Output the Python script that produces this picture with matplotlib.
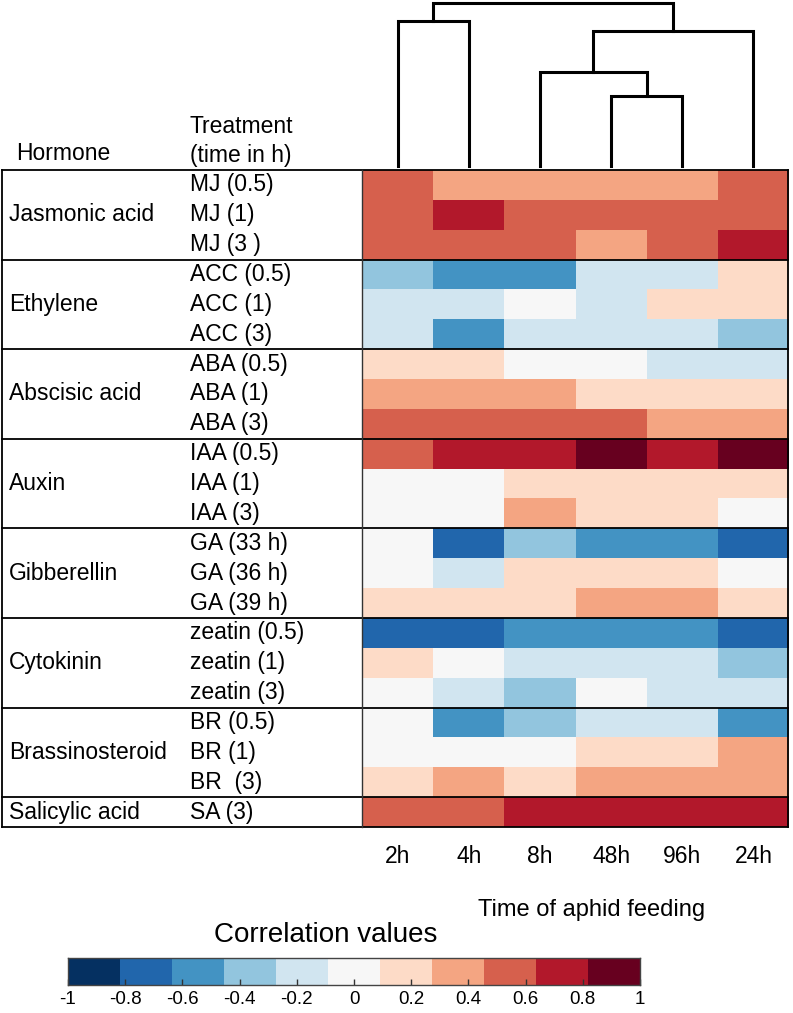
import matplotlib
matplotlib.use("Agg")
import matplotlib.pyplot as plt
from matplotlib.colors import ListedColormap, BoundaryNorm
import numpy as np

plt.rcParams['font.family'] = ['Liberation Sans', 'DejaVu Sans']

# ---------------- data ----------------
time_labels = ["2h", "4h", "8h", "48h", "96h", "24h"]

hormones = ["Jasmonic acid", "Ethylene", "Abscisic acid", "Auxin",
            "Gibberellin", "Cytokinin", "Brassinosteroid", "Salicylic acid"]
group_sizes = [3, 3, 3, 3, 3, 3, 3, 1]

treatments = ["MJ (0.5)", "MJ (1)", "MJ (3 )",
              "ACC (0.5)", "ACC (1)", "ACC (3)",
              "ABA (0.5)", "ABA (1)", "ABA (3)",
              "IAA (0.5)", "IAA (1)", "IAA (3)",
              "GA (33 h)", "GA (36 h)", "GA (39 h)",
              "zeatin (0.5)", "zeatin (1)", "zeatin (3)",
              "BR (0.5)", "BR (1)", "BR  (3)",
              "SA (3)"]

# correlation values (columns follow time_labels)
corr_values = [
    [0.55, 0.36, 0.36, 0.36, 0.36, 0.55],
    [0.55, 0.73, 0.55, 0.55, 0.55, 0.55],
    [0.55, 0.55, 0.55, 0.36, 0.55, 0.73],
    [-0.36, -0.55, -0.55, -0.18, -0.18, 0.18],
    [-0.18, -0.18, 0.00, -0.18, 0.18, 0.18],
    [-0.18, -0.55, -0.18, -0.18, -0.18, -0.36],
    [0.18, 0.18, 0.00, 0.00, -0.18, -0.18],
    [0.36, 0.36, 0.36, 0.18, 0.18, 0.18],
    [0.55, 0.55, 0.55, 0.55, 0.36, 0.36],
    [0.55, 0.73, 0.73, 0.90, 0.73, 0.90],
    [0.00, 0.00, 0.18, 0.18, 0.18, 0.18],
    [0.00, 0.00, 0.36, 0.18, 0.18, 0.00],
    [0.00, -0.73, -0.36, -0.55, -0.55, -0.73],
    [0.00, -0.18, 0.18, 0.18, 0.18, 0.00],
    [0.18, 0.18, 0.18, 0.36, 0.36, 0.18],
    [-0.73, -0.73, -0.55, -0.55, -0.55, -0.73],
    [0.18, 0.00, -0.18, -0.18, -0.18, -0.36],
    [0.00, -0.18, -0.36, 0.00, -0.18, -0.18],
    [0.00, -0.55, -0.36, -0.18, -0.18, -0.55],
    [0.00, 0.00, 0.00, 0.18, 0.18, 0.36],
    [0.18, 0.36, 0.18, 0.36, 0.36, 0.36],
    [0.55, 0.55, 0.73, 0.73, 0.73, 0.73],
]

# dendrogram over columns (scipy-style linkage: a, b, height)
col_linkage = [
    [0, 1, 0.89],
    [3, 4, 0.43],
    [2, 7, 0.58],
    [8, 5, 0.83],
    [6, 9, 1.00],
]

cbar_ticks = [-1, -0.8, -0.6, -0.4, -0.2, 0, 0.2, 0.4, 0.6, 0.8, 1]
cbar_ticklabels = ["-1", "-0.8", "-0.6", "-0.4", "-0.2", "0", "0.2", "0.4", "0.6", "0.8", "1"]

palette = ["#053061", "#2166ac", "#4393c3", "#92c5de", "#d1e5f0", "#f7f7f7",
           "#fddbc7", "#f4a582", "#d6604d", "#b2182b", "#67001f"]

# ---------------- layout ----------------
W, H = 793, 1013
fig = plt.figure(figsize=(W / 100, H / 100), dpi=100)


def fbox(x0, y0, x1, y1):
    return [x0 / W, 1 - y1 / H, (x1 - x0) / W, (y1 - y0) / H]


HL, HR, HT, HB = 362, 789, 170, 827
FS = 16.5

cmap = ListedColormap(palette)
edges = np.linspace(-1, 1, len(palette) + 1)
norm = BoundaryNorm(edges, cmap.N)

data = np.array(corr_values)
nrow, ncol = data.shape

# heatmap
ax = fig.add_axes(fbox(HL, HT, HR, HB))
ax.pcolormesh(np.arange(ncol + 1) - 0.5, np.arange(nrow + 1) - 0.5, data,
              cmap=cmap, norm=norm)
ax.set_xlim(-0.5, ncol - 0.5)
ax.set_ylim(nrow - 0.5, -0.5)
ax.set_yticks([])
ax.set_xticks(range(ncol))
ax.set_xticklabels(time_labels, fontsize=FS)
ax.tick_params(axis='x', length=0, pad=13)
for s in ax.spines.values():
    s.set_visible(False)
ax.set_xlabel("Time of aphid feeding", fontsize=17)
ax.xaxis.set_label_coords((592 - HL) / (HR - HL), -(899 - HB) / (HB - HT))

# dendrogram
dax = fig.add_axes(fbox(HL, 3.3, HR, 166))
dax.set_xlim(-0.5, ncol - 0.5)
dax.set_ylim(0, 1.0)
dax.axis('off')
pos = {i: (float(i), 0.0) for i in range(ncol)}
for k, (a, b, h) in enumerate(col_linkage):
    xa, ha = pos[a]
    xb, hb = pos[b]
    dax.plot([xa, xa, xb, xb], [ha, h, h, hb], color='black', lw=2.2,
             solid_joinstyle='miter', clip_on=False)
    pos[ncol + k] = ((xa + xb) / 2, h)

# overlay for table lines and labels
ov = fig.add_axes([0, 0, 1, 1])
ov.set_xlim(0, W)
ov.set_ylim(H, 0)
ov.axis('off')
ov.patch.set_alpha(0)

row_h = (HB - HT) / nrow
bounds = np.concatenate([[0], np.cumsum(group_sizes)])
for b in bounds:
    y = HT + b * row_h
    ov.plot([2, 788], [y, y], color='black', lw=1.3)
ov.plot([2, 2], [HT, HB], color='black', lw=1.3)
ov.plot([788, 788], [HT, HB], color='black', lw=1.3)
ov.plot([HL, HL], [HT, HB], color='#333333', lw=1.0)

for g, name in enumerate(hormones):
    yc = HT + (bounds[g] + group_sizes[g] / 2) * row_h
    ov.text(9, yc, name, fontsize=FS, va='center', ha='left')
for r, t in enumerate(treatments):
    yc = HT + (r + 0.5) * row_h
    ov.text(190, yc, t, fontsize=FS, va='center', ha='left')

ov.text(16, 153, "Hormone", fontsize=FS, va='center', ha='left')
ov.text(190, 126, "Treatment", fontsize=FS, va='center', ha='left')
ov.text(190, 155, "(time in h)", fontsize=FS, va='center', ha='left')

ov.text(326, 935, "Correlation values", fontsize=20, va='center', ha='center')

# colour bar
cax = fig.add_axes(fbox(68, 958, 640, 985))
cax.pcolormesh(edges, [0, 1], ((edges[:-1] + edges[1:]) / 2)[None, :],
               cmap=cmap, norm=norm)
cax.set_xlim(-1, 1)
cax.set_ylim(0, 1)
cax.set_yticks([])
cax.set_xticks(cbar_ticks)
cax.set_xticklabels(cbar_ticklabels, fontsize=13.5)
cax.tick_params(axis='x', direction='in', length=4, width=1, pad=4, color='#333333')
for s in cax.spines.values():
    s.set_color('#444444')
    s.set_linewidth(1)

fig.savefig("out.png", dpi=100)
